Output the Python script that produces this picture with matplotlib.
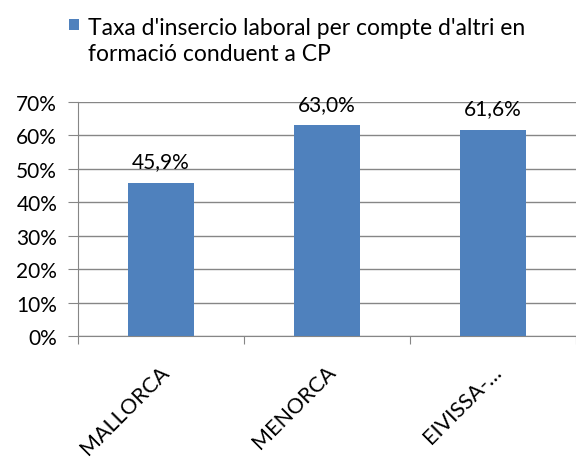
import matplotlib
matplotlib.use("Agg")
import matplotlib.pyplot as plt
from matplotlib.patches import Rectangle

categories = ["MALLORCA", "MENORCA", "EIVISSA-…"]
values = [45.9, 63.0, 61.6]
value_labels = ["45,9%", "63,0%", "61,6%"]
yticks = [0, 10, 20, 30, 40, 50, 60, 70]
ytick_labels = ["0%", "10%", "20%", "30%", "40%", "50%", "60%", "70%"]
legend_label = "Taxa d'insercio laboral per compte d'altri en\nformació conduent a CP"

plt.rcParams['font.family'] = ['Lato', 'DejaVu Sans']

fig = plt.figure(figsize=(5.76, 4.6), dpi=100)
ax = fig.add_axes([78/576, 1-337/460, 1-78/576, (337-103)/460])

x = list(range(len(categories)))
ax.bar(x, values, width=0.4, color="#4F81BD", zorder=3)
ax.set_xlim(-0.5, len(categories) - 0.5)
ax.set_ylim(0, 70)

ax.set_yticks(yticks)
ax.set_yticklabels(ytick_labels, fontsize=15)
ax.yaxis.grid(True, color="#868686", linewidth=1, zorder=0)
ax.tick_params(axis='y', length=7, color="#868686", pad=8)

ax.set_xticks([i - 0.5 for i in range(len(categories) + 1)], minor=False)
ax.set_xticklabels([])
ax.tick_params(axis='x', length=6, color="#868686", direction='out')
for i, c in enumerate(categories):
    ax.text(i - 0.01, -7.5, c, rotation=45, ha='right', va='top',
            rotation_mode='anchor', fontsize=15.5, transform=ax.transData, clip_on=False)

for s in ['top', 'right']:
    ax.spines[s].set_visible(False)
for s in ['left', 'bottom']:
    ax.spines[s].set_color("#868686")

for i, (v, lab) in enumerate(zip(values, value_labels)):
    ax.text(i, v + 3.5, lab, ha='center', va='bottom', fontsize=15)

fig.patches.append(Rectangle((69/576, 1-30.5/460), 9.5/576, 10.5/460, transform=fig.transFigure,
                             facecolor="#4F81BD", edgecolor="none"))
fig.text(88/576, 1-41.5/460, legend_label, fontsize=16.5, va='center', ha='left', linespacing=1.25)

fig.savefig("out.png", dpi=100)
